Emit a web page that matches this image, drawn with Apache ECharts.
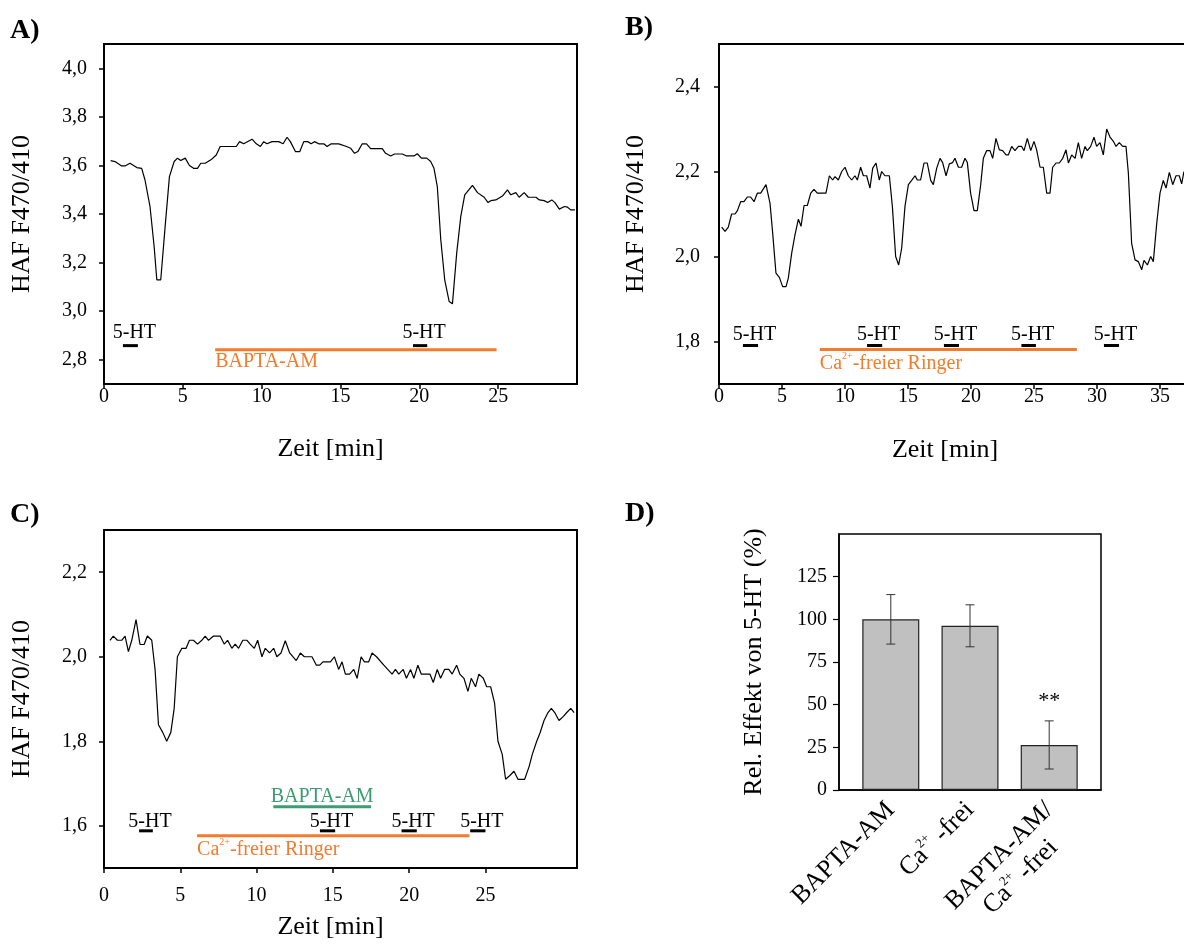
<!DOCTYPE html>
<html>
<head>
<meta charset="utf-8">
<script src="https://cdn.jsdelivr.net/npm/echarts@6.0.0/dist/echarts.min.js"></script>
<style>
html, body { margin: 0; padding: 0; background: #fff; }
#main { width: 1184px; height: 944px; }
</style>
</head>
<body>
<div id="main"></div>
<script>
// HAF F470/410 traces, [Zeit (min), ratio]
var traceA = [[0.42,3.62],[0.7,3.616],[1.12,3.598],[1.33,3.598],[1.65,3.609],[2.08,3.591],[2.39,3.588],[2.6,3.54],[2.92,3.43],[3.18,3.266],[3.35,3.129],[3.6,3.129],[3.88,3.35],[4.15,3.554],[4.45,3.616],[4.66,3.63],[4.87,3.62],[5.15,3.63],[5.42,3.6],[5.68,3.588],[5.93,3.588],[6.14,3.609],[6.42,3.609],[6.78,3.623],[7.12,3.643],[7.37,3.678],[7.8,3.678],[8.39,3.678],[8.6,3.698],[8.86,3.689],[9.39,3.708],[9.66,3.689],[9.92,3.678],[10.13,3.698],[10.34,3.689],[10.66,3.698],[11.08,3.698],[11.36,3.689],[11.61,3.716],[11.82,3.698],[12.14,3.657],[12.42,3.657],[12.67,3.698],[12.92,3.698],[13.14,3.689],[13.35,3.698],[13.62,3.689],[13.94,3.689],[14.15,3.678],[14.41,3.689],[14.89,3.689],[15.38,3.678],[15.64,3.671],[15.89,3.65],[16.1,3.657],[16.38,3.689],[16.65,3.689],[16.91,3.669],[17.65,3.669],[17.86,3.65],[18.18,3.639],[18.43,3.647],[18.92,3.647],[19.19,3.639],[19.66,3.639],[19.87,3.648],[20.13,3.63],[20.47,3.63],[20.72,3.616],[20.93,3.588],[21.14,3.513],[21.36,3.294],[21.61,3.129],[21.89,3.04],[22.1,3.03],[22.37,3.239],[22.63,3.39],[22.88,3.479],[23.37,3.518],[23.69,3.488],[24.11,3.469],[24.36,3.447],[24.53,3.455],[24.85,3.458],[25.27,3.474],[25.59,3.499],[25.8,3.479],[26.12,3.488],[26.33,3.469],[26.65,3.488],[26.91,3.469],[27.4,3.469],[27.61,3.458],[27.92,3.455],[28.14,3.447],[28.4,3.458],[28.6,3.447],[28.88,3.42],[29.2,3.431],[29.4,3.428],[29.6,3.417],[29.87,3.417]];

var traceB = [[0.21,2.069],[0.48,2.059],[0.74,2.069],[1.0,2.1],[1.27,2.1],[1.46,2.108],[1.72,2.129],[1.98,2.129],[2.25,2.14],[2.51,2.14],[2.78,2.129],[3.04,2.149],[3.31,2.149],[3.73,2.169],[4.05,2.125],[4.26,2.055],[4.52,1.961],[4.79,1.951],[5.05,1.929],[5.32,1.929],[5.5,1.949],[5.77,2.008],[6.03,2.051],[6.3,2.088],[6.51,2.071],[6.75,2.12],[7.01,2.12],[7.28,2.149],[7.54,2.158],[7.8,2.149],[8.49,2.149],[8.76,2.19],[9.02,2.18],[9.21,2.188],[9.47,2.18],[9.74,2.2],[10.0,2.21],[10.26,2.19],[10.53,2.18],[10.79,2.19],[10.98,2.18],[11.24,2.21],[11.46,2.19],[11.72,2.19],[11.98,2.161],[12.2,2.208],[12.46,2.22],[12.72,2.18],[12.91,2.2],[13.17,2.19],[13.52,2.19],[13.76,2.118],[14.02,2.0],[14.26,1.98],[14.5,2.02],[14.76,2.118],[15.03,2.169],[15.29,2.179],[15.56,2.19],[15.74,2.18],[16.0,2.18],[16.27,2.22],[16.53,2.22],[16.8,2.179],[17.01,2.169],[17.28,2.208],[17.54,2.231],[17.75,2.221],[18.02,2.19],[18.28,2.218],[18.54,2.221],[18.73,2.231],[19.0,2.21],[19.26,2.21],[19.52,2.231],[19.71,2.221],[19.97,2.149],[20.24,2.108],[20.5,2.108],[20.77,2.169],[20.98,2.231],[21.24,2.249],[21.51,2.249],[21.72,2.231],[21.98,2.278],[22.25,2.251],[22.51,2.249],[22.78,2.239],[22.96,2.239],[23.23,2.259],[23.49,2.249],[23.76,2.259],[24.02,2.259],[24.21,2.249],[24.47,2.278],[24.74,2.249],[25.0,2.271],[25.21,2.251],[25.48,2.21],[25.74,2.21],[26.01,2.149],[26.27,2.149],[26.48,2.21],[26.75,2.22],[27.01,2.22],[27.28,2.231],[27.54,2.251],[27.73,2.22],[27.99,2.239],[28.26,2.231],[28.52,2.268],[28.78,2.231],[29.05,2.259],[29.23,2.249],[29.5,2.259],[29.76,2.281],[29.97,2.259],[30.24,2.268],[30.5,2.239],[30.77,2.3],[31.03,2.281],[31.3,2.271],[31.51,2.259],[31.77,2.268],[32.04,2.259],[32.3,2.259],[32.49,2.196],[32.75,2.031],[33.02,1.992],[33.28,1.988],[33.55,1.969],[33.73,1.991],[34.0,1.98],[34.26,2.0],[34.47,1.988],[34.74,2.078],[35.0,2.149],[35.26,2.179],[35.48,2.161],[35.74,2.198],[36.01,2.169],[36.27,2.19],[36.53,2.19],[36.72,2.171],[36.9,2.2]];

var traceC = [[0.39,2.039],[0.61,2.049],[0.88,2.039],[1.16,2.039],[1.38,2.049],[1.6,2.012],[1.82,2.039],[2.1,2.088],[2.36,2.029],[2.63,2.029],[2.84,2.049],[3.13,2.039],[3.35,1.969],[3.57,1.839],[3.85,1.821],[4.11,1.8],[4.38,1.821],[4.6,1.878],[4.81,2.0],[5.1,2.02],[5.38,2.02],[5.6,2.039],[5.86,2.039],[6.13,2.03],[6.41,2.039],[6.63,2.049],[6.85,2.039],[7.18,2.049],[7.61,2.049],[7.88,2.03],[8.1,2.039],[8.38,2.02],[8.6,2.03],[8.82,2.02],[9.1,2.039],[9.37,2.039],[9.58,2.03],[9.85,2.02],[10.07,2.039],[10.35,2.0],[10.57,2.02],[10.85,2.009],[11.12,2.02],[11.33,2.0],[11.6,2.009],[11.88,2.038],[12.17,2.009],[12.6,1.991],[12.87,2.009],[13.13,2.0],[13.63,2.0],[13.92,1.98],[14.14,1.98],[14.35,1.988],[14.84,1.988],[15.1,2.0],[15.38,1.97],[15.6,1.988],[15.82,1.959],[16.1,1.959],[16.37,1.97],[16.59,1.949],[16.85,2.0],[17.07,1.988],[17.35,1.988],[17.57,2.009],[17.86,2.0],[18.34,1.98],[18.88,1.959],[19.1,1.97],[19.32,1.959],[19.61,1.97],[19.82,1.949],[20.09,1.97],[20.31,1.949],[20.57,1.98],[20.79,1.959],[21.36,1.959],[21.58,1.939],[21.84,1.97],[22.06,1.949],[22.32,1.97],[22.6,1.97],[22.82,1.959],[23.11,1.98],[23.32,1.959],[23.59,1.949],[23.85,1.918],[24.07,1.949],[24.35,1.929],[24.57,1.959],[24.86,1.949],[25.08,1.929],[25.34,1.929],[25.6,1.89],[25.82,1.8],[26.1,1.769],[26.32,1.71],[26.6,1.719],[26.87,1.729],[27.13,1.71],[27.57,1.71],[27.86,1.74],[28.07,1.769],[28.36,1.8],[28.58,1.82],[28.84,1.849],[29.1,1.868],[29.32,1.878],[29.54,1.868],[29.82,1.849],[30.11,1.859],[30.33,1.868],[30.59,1.878],[30.81,1.868]];

// application periods [start, end] (min)
var htA = [[1.2, 2.15], [19.6, 20.5]];
var htB = [[1.9, 3.1], [11.75, 12.95], [17.85, 19.05], [24.0, 25.15], [30.55, 31.75]];
var htC = [[2.3, 3.2], [14.15, 15.15], [19.5, 20.5], [24.0, 25.0]];
var baptaA = [[7.05, 24.9]];
var caFreeB = [[8.0, 28.4]];
var caFreeC = [[6.1, 23.95]];
var baptaC = [[11.1, 17.5]];

// tick labels
var ticksA = [2.8, 3.0, 3.2, 3.4, 3.6, 3.8, 4.0];
var ticksB = [1.8, 2.0, 2.2, 2.4];
var ticksC = [1.6, 1.8, 2.0, 2.2];
var timeTicks = [0, 5, 10, 15, 20, 25];
var timeTicksB = [0, 5, 10, 15, 20, 25, 30, 35, 40];
var effectTicks = [0, 25, 50, 75, 100, 125];

// panel D
var groups = ['BAPTA-AM', 'Ca2+ -frei', 'BAPTA-AM/\nCa2+ -frei'];
var effect = [100, 96.2, 26.4];
var effectSd = [14.5, 12.3, 14.1];
var effectSig = ['', '', '**'];

var serif = '"Liberation Serif", "Times New Roman", serif';
var orange = '#f47a2c';
var green = '#3d9c70';

function sup(s) {
    return s.split('\n').map(function (line) {
        return line.split('Ca2+').map(function (p) {
            return p ? '{n|' + p + '}' : '';
        }).join('{n|Ca}{s|2+}');
    }).join('\n');
}
function richStyle(size, color, align) {
    var n = { fontSize: size, fontFamily: serif, fill: color, color: color, lineHeight: size + 4 };
    var s = { fontSize: Math.round(size * 0.5), fontFamily: serif, fill: color, color: color, lineHeight: Math.round(size * 0.55), verticalAlign: 'top' };
    if (align) { n.align = align; s.align = align; }
    return { n: n, s: s };
}
function comma(v) { return v.toFixed(1).replace('.', ','); }

function stimSeries(gi, spans, yLine, dy) {
    return {
        type: 'custom', xAxisIndex: gi, yAxisIndex: gi, clip: false, silent: true, z: 5,
        data: spans, encode: { x: [0, 1] },
        renderItem: function (params, api) {
            var a = api.coord([api.value(0), yLine]);
            var b = api.coord([api.value(1), yLine]);
            return { type: 'group', children: [
                { type: 'line', shape: { x1: a[0], y1: a[1], x2: b[0], y2: b[1] }, style: { stroke: '#000', lineWidth: 3 } },
                { type: 'text', x: (a[0] + b[0]) / 2 + 4, y: a[1] + dy,
                  style: { text: '5-HT', font: '20px ' + serif, fill: '#000', align: 'center', verticalAlign: 'middle' } }
            ] };
        }
    };
}

function bathSeries(gi, spans, yLine, dy, color, label, centered) {
    return {
        type: 'custom', xAxisIndex: gi, yAxisIndex: gi, clip: false, silent: true, z: 5,
        data: spans, encode: { x: [0, 1] },
        renderItem: function (params, api) {
            var a = api.coord([api.value(0), yLine]);
            var b = api.coord([api.value(1), yLine]);
            return { type: 'group', children: [
                { type: 'line', shape: { x1: a[0], y1: a[1], x2: b[0], y2: b[1] }, style: { stroke: color, lineWidth: 3 } },
                { type: 'text', x: centered ? (a[0] + b[0]) / 2 : a[0], y: a[1] + dy,
                  style: { text: sup(label), rich: richStyle(20, color), fill: color, align: centered ? 'center' : 'left', verticalAlign: 'middle' } }
            ] };
        }
    };
}

function timeAxis(gi, max, ticks, margin, gap, pad) {
    return {
        type: 'value', gridIndex: gi, min: 0, max: max,
        name: 'Zeit [min]', nameLocation: 'middle', nameGap: gap,
        nameTextStyle: { fontFamily: serif, fontSize: 26, color: '#000', padding: pad },
        axisLine: { onZero: false, lineStyle: { color: '#000', width: 2 } },
        axisTick: { length: 5, lineStyle: { color: '#000', width: 1.5 }, customValues: ticks },
        axisLabel: { fontFamily: serif, fontSize: 20, color: '#000', margin: margin, customValues: ticks },
        splitLine: { show: false }
    };
}
function ratioAxis(gi, min, max, ticks, margin, gap) {
    return {
        type: 'value', gridIndex: gi, min: min, max: max,
        name: 'HAF F470/410', nameLocation: 'middle', nameGap: gap,
        nameTextStyle: { fontFamily: serif, fontSize: 26, color: '#000' },
        axisLine: { onZero: false, lineStyle: { color: '#000', width: 2 } },
        axisTick: { length: 5, lineStyle: { color: '#000', width: 1.5 }, customValues: ticks },
        axisLabel: { fontFamily: serif, fontSize: 20, color: '#000', margin: margin, customValues: ticks, formatter: comma },
        splitLine: { show: false }
    };
}
function traceSeries(gi, data) {
    return {
        type: 'line', xAxisIndex: gi, yAxisIndex: gi, data: data,
        symbol: 'none', lineStyle: { color: '#000', width: 1.2 }, silent: true
    };
}

var box = { show: true, borderColor: '#000', borderWidth: 2, backgroundColor: 'transparent', outerBoundsMode: 'none', containLabel: false };

var myChart = echarts.init(document.getElementById('main'));
var option = {
    animation: false,
    backgroundColor: '#fff',
    grid: [
        Object.assign({ left: 104, top: 44, width: 473, height: 340 }, box),
        Object.assign({ left: 719, top: 44, width: 504, height: 340 }, box),
        Object.assign({ left: 104, top: 530, width: 473, height: 338 }, box),
        Object.assign({ left: 839, top: 534, width: 262, height: 256 }, box, { borderWidth: 1.5 })
    ],
    xAxis: [
        timeAxis(0, 30, timeTicks, 3, 52, [0, 20, 0, 0]),
        timeAxis(1, 40, timeTicksB, 3, 53, [0, 52, 0, 0]),
        timeAxis(2, 31, timeTicks, 18, 46, [0, 20, 0, 0]),
        {
            type: 'value', gridIndex: 3, min: -0.654, max: 2.654,
            axisLine: { onZero: false, lineStyle: { color: '#000', width: 1.5 } },
            axisTick: { show: false },
            axisLabel: {
                rotate: 45, margin: 16, customValues: [0, 1, 2],
                formatter: function (v) {
                    var s = sup(groups[Math.round(v)]);
                    // keep the first line on the tick for two-line labels
                    return s.indexOf('\n') >= 0 ? '{n| }\n' + s : s;
                },
                rich: richStyle(26, '#000', 'center')
            },
            splitLine: { show: false }
        }
    ],
    yAxis: [
        ratioAxis(0, 2.7, 4.1, ticksA, 17, 69),
        ratioAxis(1, 1.7, 2.5, ticksB, 19, 70),
        ratioAxis(2, 1.5, 2.3, ticksC, 17, 69),
        {
            type: 'value', gridIndex: 3, min: 0, max: 150,
            name: 'Rel. Effekt von 5-HT (%)', nameLocation: 'middle', nameGap: 72,
            nameTextStyle: { fontFamily: serif, fontSize: 26, color: '#000' },
            axisLine: { onZero: false, lineStyle: { color: '#000', width: 1.5 } },
            axisTick: { length: 6, lineStyle: { color: '#000', width: 1.2 }, customValues: effectTicks },
            axisLabel: { fontFamily: serif, fontSize: 20, color: '#000', margin: 12, customValues: effectTicks },
            splitLine: { show: false }
        }
    ],
    graphic: [
        { type: 'text', left: 10, top: 17, style: { text: 'A)', font: 'bold 28px ' + serif, fill: '#000' } },
        { type: 'text', left: 625, top: 14, style: { text: 'B)', font: 'bold 28px ' + serif, fill: '#000' } },
        { type: 'text', left: 10, top: 501, style: { text: 'C)', font: 'bold 28px ' + serif, fill: '#000' } },
        { type: 'text', left: 625, top: 500, style: { text: 'D)', font: 'bold 28px ' + serif, fill: '#000' } }
    ],
    series: [
        traceSeries(0, traceA),
        traceSeries(1, traceB),
        traceSeries(2, traceC),
        stimSeries(0, htA, 2.858, -13),
        bathSeries(0, baptaA, 2.841, 12, orange, 'BAPTA-AM', false),
        stimSeries(1, htB, 1.7906, -11),
        bathSeries(1, caFreeB, 1.781, 14, orange, 'Ca2+-freier Ringer', false),
        stimSeries(2, htC, 1.588, -9),
        bathSeries(2, caFreeC, 1.5765, 14, orange, 'Ca2+-freier Ringer', false),
        bathSeries(2, baptaC, 1.645, -10, green, 'BAPTA-AM', true),
        {
            type: 'bar', xAxisIndex: 3, yAxisIndex: 3, barWidth: 57, silent: true, z: 2,
            data: effect.map(function (m, i) { return [i, m]; }),
            itemStyle: { color: '#c0c0c0', borderColor: '#222', borderWidth: 1.2 }
        },
        {
            type: 'custom', xAxisIndex: 3, yAxisIndex: 3, silent: true, clip: false, z: 10,
            data: effect.map(function (m, i) { return [i, m, effectSd[i]]; }),
            encode: { x: 0, y: 1 },
            renderItem: function (params, api) {
                var x = api.value(0), m = api.value(1), sd = api.value(2);
                var top = api.coord([x, m + sd]);
                var bot = api.coord([x, m - sd]);
                var w = 4.5;
                var st = { stroke: '#333', lineWidth: 1 };
                var kids = [
                    { type: 'line', shape: { x1: top[0], y1: top[1], x2: bot[0], y2: bot[1] }, style: st },
                    { type: 'line', shape: { x1: top[0] - w, y1: top[1], x2: top[0] + w, y2: top[1] }, style: st },
                    { type: 'line', shape: { x1: bot[0] - w, y1: bot[1], x2: bot[0] + w, y2: bot[1] }, style: st }
                ];
                var star = effectSig[params.dataIndex];
                if (star) {
                    kids.push({ type: 'text', x: top[0], y: top[1] - 20,
                        style: { text: star, font: '22px ' + serif, fill: '#000', align: 'center', verticalAlign: 'middle' } });
                }
                return { type: 'group', children: kids };
            }
        }
    ]
};
myChart.setOption(option);
</script>
</body>
</html>
